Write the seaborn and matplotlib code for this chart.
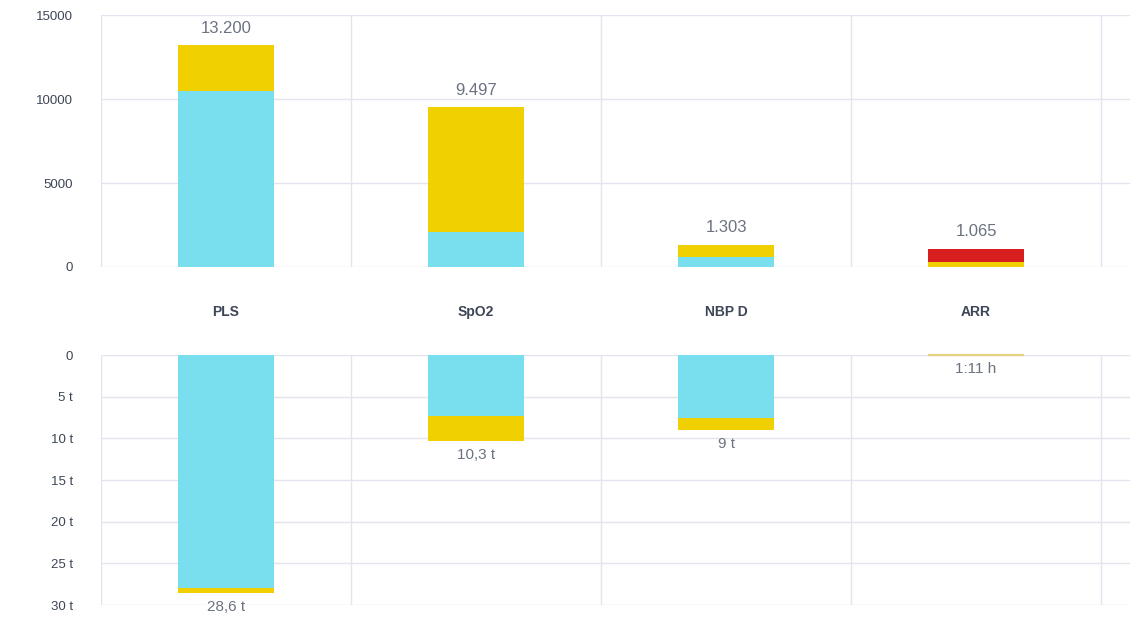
import matplotlib
matplotlib.use("Agg")
import matplotlib.pyplot as plt
import numpy as np
import pandas as pd
import seaborn as sns

categories = ["PLS", "SpO2", "NBP D", "ARR"]

# top panel: counts
top_cyan = [10450, 2100, 600, 0]
top_yellow = [2750, 7397, 703, 300]
top_red = [0, 0, 0, 765]
top_labels = ["13.200", "9.497", "1.303", "1.065"]

# bottom panel: durations in days (t)
bot_cyan = [28.0, 7.3, 7.5, 0.0]
bot_yellow = [0.6, 3.0, 1.5, 0.05]
bot_labels = ["28,6 t", "10,3 t", "9 t", "1:11 h"]
bot_ticks = [0, 5, 10, 15, 20, 25, 30]
bot_ticklabels = ["0", "5 t", "10 t", "15 t", "20 t", "25 t", "30 t"]

CYAN = "#79deee"
YELLOW = "#f0d000"
RED = "#d81e1e"
GRID = "#e3e5ee"
TEXT = "#6b7280"
DARK = "#3d4656"

sns.set_style("white")
plt.rcParams["font.family"] = ["Liberation Sans", "DejaVu Sans"]

fig = plt.figure(figsize=(11.3, 6.26), dpi=100)
ax_top = fig.add_axes([0.0894, 0.5735, 0.9106, 0.4025])
ax_bot = fig.add_axes([0.0894, 0.0335, 0.9106, 0.3994])

df_top = pd.DataFrame({
    "cat": categories,
    "cyan": top_cyan,
    "yellow": top_yellow,
    "red": top_red,
})
df_top["c2"] = df_top["cyan"] + df_top["yellow"]
df_top["c3"] = df_top["c2"] + df_top["red"]

df_bot = pd.DataFrame({"cat": categories, "cyan": bot_cyan, "yellow": bot_yellow})
df_bot["c2"] = df_bot["cyan"] + df_bot["yellow"]

W = 0.385
bar_kw = dict(x="cat", order=categories, width=W, saturation=1, linewidth=0, zorder=3)
sns.barplot(data=df_top, y="c3", color=RED, ax=ax_top, **bar_kw)
sns.barplot(data=df_top, y="c2", color=YELLOW, ax=ax_top, **bar_kw)
sns.barplot(data=df_top, y="cyan", color=CYAN, ax=ax_top, **bar_kw)

sns.barplot(data=df_bot, y="c2", color=YELLOW, ax=ax_bot, **bar_kw)
sns.barplot(data=df_bot, y="cyan", color=CYAN, ax=ax_bot, **bar_kw)
# the ARR duration is tiny, give it a thin visible outline
arr_bar = ax_bot.patches[3]
arr_bar.set_edgecolor("#e6d27a")
arr_bar.set_linewidth(1.6)
arr_bar.set_clip_on(False)

for i, lab in enumerate(top_labels):
    ax_top.annotate(lab, (i, df_top["c3"][i]), xytext=(0, 7), textcoords="offset points",
                    ha="center", va="bottom", fontsize=12, color=TEXT)
for i, lab in enumerate(bot_labels):
    ax_bot.annotate(lab, (i, df_bot["c2"][i]), xytext=(0, -5), textcoords="offset points",
                    ha="center", va="top", fontsize=11, color=TEXT)

for ax in (ax_top, ax_bot):
    ax.set_xlim(-0.5, 3.616)
    ax.set_xlabel("")
    ax.set_ylabel("")
    ax.set_xticks([])
    for s in ax.spines.values():
        s.set_visible(False)
    for xb in [-0.5, 0.5, 1.5, 2.5, 3.5]:
        ax.axvline(xb, color=GRID, lw=1, zorder=0)
    ax.grid(axis="y", color=GRID, lw=1, zorder=0)
    ax.set_axisbelow(True)
    ax.tick_params(axis="y", length=0, pad=20, labelsize=9.5, labelcolor=DARK)

ax_top.set_ylim(0, 15000)
ax_top.set_yticks([0, 5000, 10000, 15000])

ax_bot.set_ylim(30, 0)
ax_bot.set_yticks(bot_ticks)
ax_bot.set_yticklabels(bot_ticklabels)

for i, c in enumerate(categories):
    ax_top.text(i, -2650, c, ha="center", va="center", fontsize=10,
                fontweight="bold", color=DARK)

fig.savefig("out.png", dpi=100)
